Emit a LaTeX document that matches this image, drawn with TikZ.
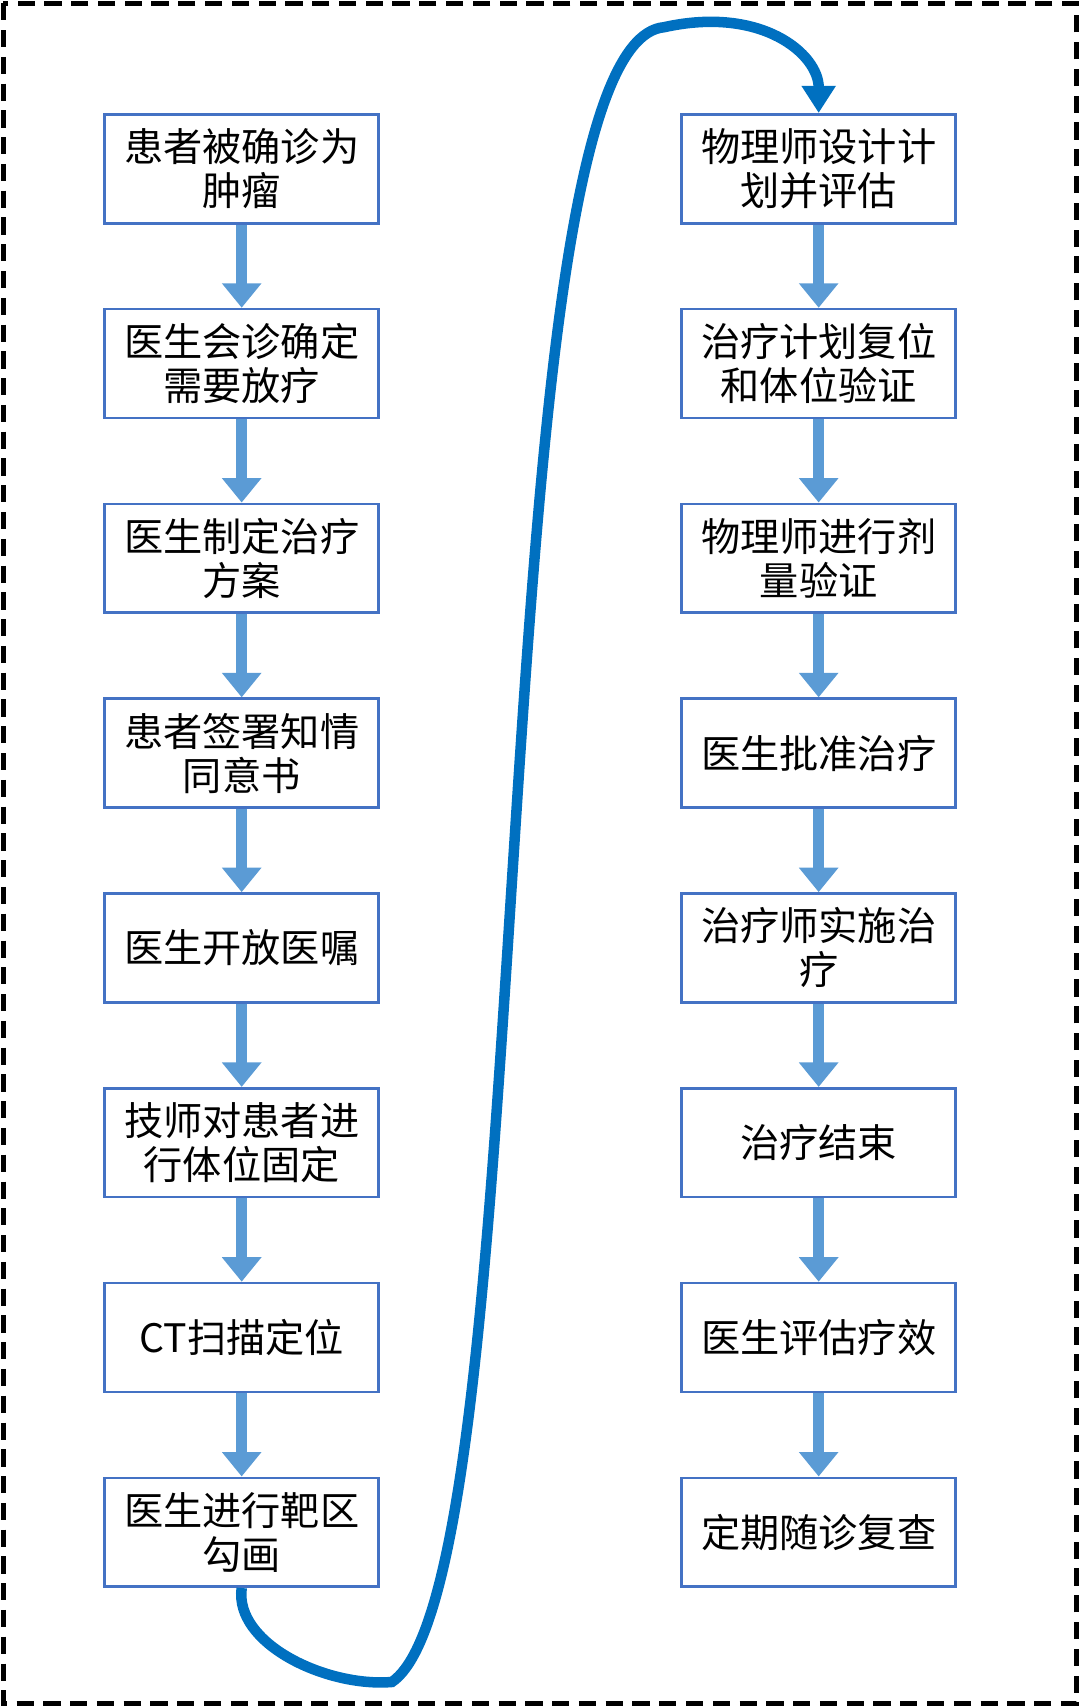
\documentclass[tikz,border=0pt]{standalone}
\usepackage{fontspec}
\setmainfont{Noto Sans CJK SC}
\usetikzlibrary{positioning}
\usetikzlibrary{arrows.meta}
\definecolor{boxblue}{HTML}{4472C4}
\definecolor{arrblue}{HTML}{5B9BD5}
\definecolor{loopblue}{HTML}{0070C0}

\begin{document}
\begin{tikzpicture}[x=0.02cm,y=-0.02cm,
		% box and arrow styles
		stage/.style={draw=boxblue, line width=1.4pt, minimum width=5.04cm, minimum height=2.0cm, align=center, font=\fontsize{20.5}{23}\selectfont, inner sep=0pt},
		flow/.style={-{Triangle[width=0.7cm,length=0.45cm]}, arrblue, line width=6pt},
		loop/.style={-{Triangle[width=0.6cm,length=0.5cm]}, loopblue, line width=5.5pt},
		node distance=1.53cm,
		]
		\draw[black, line width=2.4pt, dash pattern=on 9pt off 5pt] (3,3) rectangle (989,1565);
		\useasboundingbox (0,0) rectangle (992,1568);

		% left column
		\node[stage] (l1) at (222,155) {患者被确诊为\\肿瘤};
		\node[stage, below=of l1] (l2) {医生会诊确定\\需要放疗};
		\node[stage, below=of l2] (l3) {医生制定治疗\\方案};
		\node[stage, below=of l3] (l4) {患者签署知情\\同意书};
		\node[stage, below=of l4] (l5) {医生开放医嘱};
		\node[stage, below=of l5] (l6) {技师对患者进\\行体位固定};
		\node[stage, below=of l6] (l7) {CT扫描定位};
		\node[stage, below=of l7] (l8) {医生进行靶区\\勾画};

		% right column
		\node[stage] (r1) at (752,155) {物理师设计计\\划并评估};
		\node[stage, below=of r1] (r2) {治疗计划复位\\和体位验证};
		\node[stage, below=of r2] (r3) {物理师进行剂\\量验证};
		\node[stage, below=of r3] (r4) {医生批准治疗};
		\node[stage, below=of r4] (r5) {治疗师实施治\\疗};
		\node[stage, below=of r5] (r6) {治疗结束};
		\node[stage, below=of r6] (r7) {医生评估疗效};
		\node[stage, below=of r7] (r8) {定期随诊复查};

		% column arrows
		\foreach \a/\b in {1/2,2/3,3/4,4/5,5/6,6/7,7/8} {
			\draw[flow] (l\a) -- (l\b);
			\draw[flow] (r\a) -- (r\b);
		}

		% loop from left bottom to right top
		\coordinate (bend1) at (360,1545);
		\coordinate (bend2) at (610,25);
		\draw[loop] (l8.south) .. controls (215,1510) and (300,1550) .. (bend1)
			.. controls (500,1450) and (440,40) .. (bend2)
			.. controls (700,5) and (752,50) .. (r1.north);
	\end{tikzpicture}
\end{document}
